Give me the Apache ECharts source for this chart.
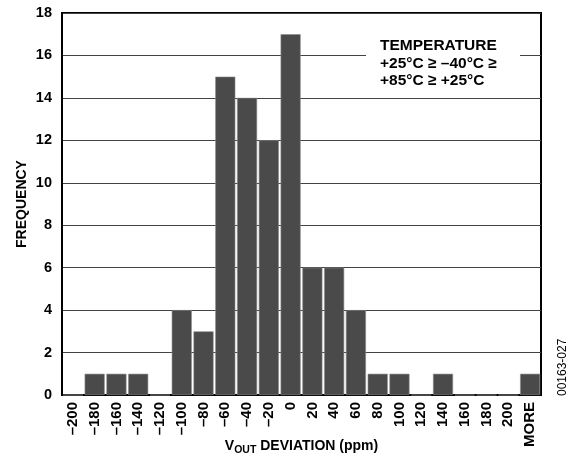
<!DOCTYPE html>
<html><head><meta charset="utf-8">
<script src="https://cdn.jsdelivr.net/npm/echarts@6/dist/echarts.min.js"></script>
<style>html,body{margin:0;padding:0;background:#fff}#c{width:566px;height:460px}</style>
</head><body><div id="c"></div>
<script>
const categories = ['–200','–180','–160','–140','–120','–100','–80','–60','–40','–20','0','20','40','60','80','100','120','140','160','180','200','MORE'];
const frequency = [0,1,1,1,0,4,3,15,14,12,17,6,6,4,1,1,0,1,0,0,0,1];
const yTicks = {min:0, max:18, interval:2};
const legendLines = ['TEMPERATURE','+25°C ≥ –40°C ≥','+85°C ≥ +25°C'];

const FONT = 'Liberation Sans, Arial, sans-serif';
const chart = echarts.init(document.getElementById('c'));
chart.setOption({
  animation:false,
  backgroundColor:'#fff',
  grid:{left:62,right:25,top:13,bottom:65,outerBoundsMode:'none',containLabel:false,show:true,borderColor:'#000',borderWidth:2,backgroundColor:'transparent'},
  xAxis:{
    type:'category', data:categories,
    axisLine:{lineStyle:{color:'#000',width:2}},
    axisTick:{show:false},
    axisLabel:{rotate:90,fontFamily:FONT,fontWeight:'bold',fontSize:15,color:'#000',margin:7,interval:0},
    name:'{a|V}{b|OUT}{a| DEVIATION (ppm)}',
    nameLocation:'middle', nameGap:42, nameMoveOverlap:false,
    nameTextStyle:{verticalAlign:'top',rich:{
      a:{fontFamily:FONT,fontWeight:'bold',fontSize:14,color:'#000'},
      b:{fontFamily:FONT,fontWeight:'bold',fontSize:10.5,color:'#000',padding:[8,0,0,0]}
    }}
  },
  yAxis:{
    type:'value', min:yTicks.min, max:yTicks.max, interval:yTicks.interval,
    axisLine:{show:true,lineStyle:{color:'#000',width:2}},
    axisTick:{show:false},
    axisLabel:{fontFamily:FONT,fontWeight:'bold',fontSize:14.5,color:'#000',margin:10},
    splitLine:{lineStyle:{color:'#444',width:1}},
    name:'FREQUENCY', nameLocation:'middle', nameGap:33, nameMoveOverlap:false,
    nameTextStyle:{fontFamily:FONT,fontWeight:'bold',fontSize:14,color:'#000'}
  },
  series:[{
    type:'bar', data:frequency, barCategoryGap:'8%',
    itemStyle:{color:'#4a4a4a',borderColor:'#8a8a8a',borderWidth:0.6}
  }],
  graphic:[
    {type:'rect',shape:{x:366,y:33,width:154,height:58},style:{fill:'#fff'},z:10},
    {type:'text',x:380,y:37,z:11,style:{text:legendLines.join('\n'),font:'bold 15.5px '+FONT,fill:'#000',lineHeight:17.5}},
    {type:'text',x:557,y:396,rotation:Math.PI/2,z:11,style:{text:'00163-027',font:'12px '+FONT,fill:'#000',align:'left',verticalAlign:'top'}}
  ]
});
</script></body></html>
